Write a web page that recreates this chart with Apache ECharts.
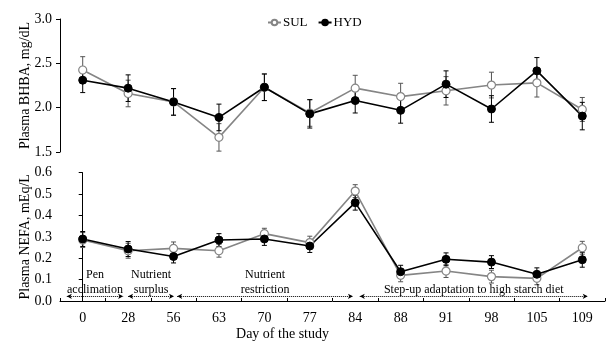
<!DOCTYPE html>
<html>
<head>
<meta charset="utf-8">
<script src="https://cdn.jsdelivr.net/npm/echarts@6/dist/echarts.min.js"></script>
<style>html,body{margin:0;padding:0;background:#fff}#c{width:614px;height:345px}</style>
</head>
<body>
<div id="c"></div>
<script>
var days = ['0','28','56','63','70','77','84','88','91','98','105','109'];
var bhbaSUL = [2.425, 2.16, 2.065, 1.665, 2.23, 1.94, 2.22, 2.125, 2.19, 2.255, 2.28, 1.98];
var bhbaHYD = [2.31, 2.22, 2.065, 1.89, 2.23, 1.93, 2.08, 1.97, 2.265, 1.985, 2.415, 1.905];
var bhbaSULse = [0.15, 0.15, 0.15, 0.155, 0.15, 0.15, 0.145, 0.15, 0.16, 0.145, 0.16, 0.135];
var bhbaHYDse = [0.14, 0.15, 0.15, 0.15, 0.15, 0.16, 0.14, 0.145, 0.15, 0.15, 0.15, 0.155];
var nefaSUL = [0.285, 0.235, 0.246, 0.235, 0.315, 0.273, 0.514, 0.12, 0.14, 0.114, 0.106, 0.249];
var nefaHYD = [0.29, 0.243, 0.208, 0.285, 0.29, 0.257, 0.46, 0.137, 0.195, 0.182, 0.125, 0.193];
var nefaSULse = [0.035, 0.035, 0.03, 0.03, 0.025, 0.03, 0.03, 0.03, 0.03, 0.03, 0.03, 0.03];
var nefaHYDse = [0.035, 0.035, 0.03, 0.03, 0.03, 0.03, 0.035, 0.03, 0.03, 0.03, 0.03, 0.035];
var bhbaTicks = [1.5, 2.0, 2.5, 3.0];
var nefaTicks = [0.0, 0.1, 0.2, 0.3, 0.4, 0.5, 0.6];
var periods = ['Pen\nacclimation', 'Nutrient\nsurplus', 'Nutrient\nrestriction', 'Step-up adaptation to high starch diet'];
var periodStart = [-0.35, 1.0, 2.08, 6.1];
var periodEnd = [0.89, 2.01, 5.95, 11.12];

var FONT = 'Liberation Serif';
var GRAY = '#858585';

function errData(vals, se) {
  return vals.map(function (v, i) { return [i, v - se[i], v + se[i]]; });
}
function errSeries(name, vals, se, xi, yi, color) {
  return {
    type: 'custom', name: name + '_err', xAxisIndex: xi, yAxisIndex: yi, silent: true, z: 1,
    data: errData(vals, se),
    encode: { x: 0, y: [1, 2] },
    renderItem: function (params, api) {
      var i = api.value(0);
      var lo = api.coord([i, api.value(1)]);
      var hi = api.coord([i, api.value(2)]);
      var w = 2.5;
      var st = { stroke: color, lineWidth: 1 };
      return { type: 'group', children: [
        { type: 'line', shape: { x1: lo[0], y1: lo[1], x2: hi[0], y2: hi[1] }, style: st },
        { type: 'line', shape: { x1: lo[0] - w, y1: lo[1], x2: lo[0] + w, y2: lo[1] }, style: st },
        { type: 'line', shape: { x1: hi[0] - w, y1: hi[1], x2: hi[0] + w, y2: hi[1] }, style: st }
      ]};
    }
  };
}
function lineSeries(name, vals, xi, yi, isSUL) {
  return {
    type: 'line', name: name, xAxisIndex: xi, yAxisIndex: yi, data: vals, z: 3,
    symbol: 'circle', symbolSize: 8, showAllSymbol: true,
    lineStyle: { color: isSUL ? GRAY : '#000', width: 1.6 },
    itemStyle: isSUL ? { color: '#fff', borderColor: GRAY, borderWidth: 1.2 } : { color: '#000', borderColor: '#000', borderWidth: 1 },
    emphasis: { disabled: true }, animation: false
  };
}

var markData = periods.map(function (p, i) {
  return [
    { coord: [periodStart[i], 0.022], name: p },
    { coord: [periodEnd[i], 0.022] }
  ];
});

var yAxisCommon = {
  axisLine: { show: true, lineStyle: { color: '#000', width: 1 } },
  axisTick: { show: true, inside: false, length: 4, lineStyle: { color: '#000' } },
  splitLine: { show: false },
  axisLabel: { color: '#000', fontFamily: FONT, fontSize: 14, margin: 8, formatter: function (v) { return v.toFixed(1); } },
  nameLocation: 'middle',
  nameMoveOverlap: false,
  nameTextStyle: { color: '#000', fontFamily: FONT, fontSize: 14 }
};

var chart = echarts.init(document.getElementById('c'));
chart.setOption({
  animation: false,
  backgroundColor: '#fff',
  legend: {
    data: ['SUL', 'HYD'], top: 11, left: 262, itemWidth: 13, itemHeight: 7, itemGap: 10,
    textStyle: { color: '#000', fontFamily: FONT, fontSize: 13, padding: [0, 0, 0, -3] }, selectedMode: false
  },
  grid: [
    { left: 60, right: 9, top: 19, height: 133 },
    { left: 60, right: 9, top: 172.7, height: 128.3 }
  ],
  xAxis: [
    { type: 'category', gridIndex: 0, data: days, show: false, boundaryGap: true },
    { type: 'category', gridIndex: 1, data: days, boundaryGap: true,
      axisLine: { lineStyle: { color: '#000', width: 1 } },
      axisTick: { show: true, inside: true, length: 3, lineStyle: { color: '#000' } },
      axisLabel: { color: '#000', fontFamily: FONT, fontSize: 14, margin: 10 },
      name: 'Day of the study', nameLocation: 'middle', nameGap: 26, nameMoveOverlap: false,
      nameTextStyle: { color: '#000', fontFamily: FONT, fontSize: 14, padding: [0, 100, 0, 0] } },
    { type: 'value', gridIndex: 1, min: -0.5, max: 11.5, show: false }
  ],
  yAxis: [
    Object.assign({}, yAxisCommon, { type: 'value', gridIndex: 0, min: bhbaTicks[0], max: bhbaTicks[bhbaTicks.length - 1], interval: 0.5, name: 'Plasma BHBA, mg/dL', nameGap: 28 }),
    Object.assign({}, yAxisCommon, { type: 'value', gridIndex: 1, min: nefaTicks[0], max: nefaTicks[nefaTicks.length - 1], interval: 0.1, name: 'Plasma NEFA, mEq/L', nameGap: 28 })
  ],
  series: [
    errSeries('SUL', bhbaSUL, bhbaSULse, 0, 0, '#555'),
    errSeries('HYD', bhbaHYD, bhbaHYDse, 0, 0, '#000'),
    lineSeries('SUL', bhbaSUL, 0, 0, true),
    lineSeries('HYD', bhbaHYD, 0, 0, false),
    errSeries('SUL', nefaSUL, nefaSULse, 1, 1, '#555'),
    errSeries('HYD', nefaHYD, nefaHYDse, 1, 1, '#000'),
    lineSeries('SUL', nefaSUL, 1, 1, true),
    lineSeries('HYD', nefaHYD, 1, 1, false),
    {
      type: 'line', name: 'periods', xAxisIndex: 2, yAxisIndex: 1, data: [], silent: true,
      markLine: {
        silent: true, animation: false,
        symbol: ['arrow', 'arrow'], symbolSize: [4, 5],
        lineStyle: { type: 'dotted', color: '#000', width: 1 },
        label: { show: true, position: 'insideMiddleTop', formatter: '{b}', distance: -1,
          color: '#000', fontFamily: FONT, fontSize: 12, lineHeight: 15, align: 'center' },
        emphasis: { disabled: true },
        data: markData
      }
    }
  ]
});
</script>
</body>
</html>
